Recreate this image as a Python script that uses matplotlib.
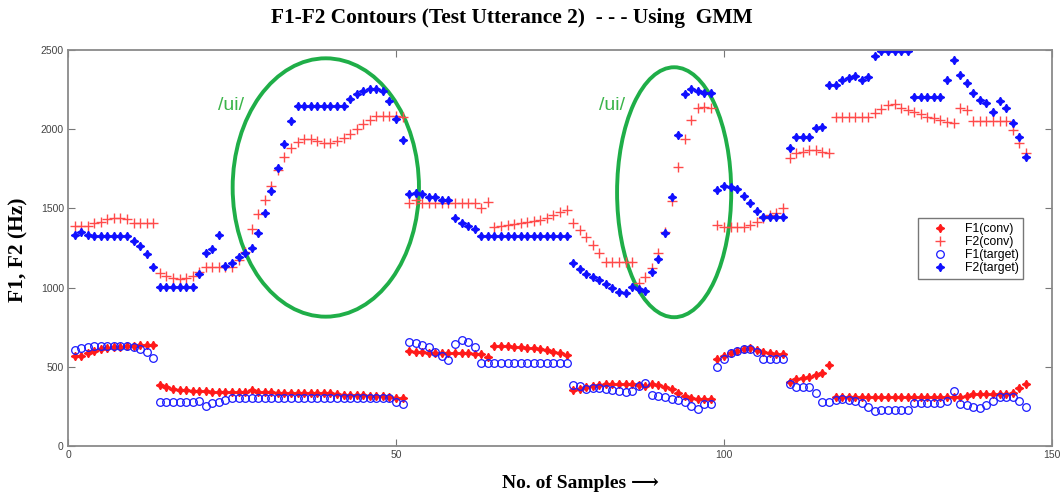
import numpy as np
import matplotlib
matplotlib.use("Agg")
import matplotlib.pyplot as plt
from matplotlib.patches import Ellipse

# formant tracks, one value per sample (1..146), in Hz
samples = np.arange(1, 147)

f1_conv = (
    [570, 570, 590, 600, 612, 620, 627, 627, 630, 632, 635, 635, 635]
    + [383, 370, 362, 356, 352, 348, 345, 345, 343, 343, 342, 342, 342, 340, 355, 338, 338, 338, 337, 337,
       337, 337, 337, 336, 336, 335, 333, 330, 325, 323, 322, 320, 318, 316, 314, 310, 305, 302]
    + [602, 596, 593, 590, 590, 588, 588, 587, 587, 585, 583, 581, 564]
    + [633, 633, 631, 627, 625, 621, 617, 613, 606, 596, 585, 575]
    + [353, 363, 370, 378, 383, 389, 391, 391, 391, 391, 385, 379, 389, 385, 374, 358, 337, 316, 301, 294, 294, 294]
    + [547, 568, 589, 602, 610, 617, 606, 595, 589, 581, 581]
    + [406, 425, 432, 437, 447, 458, 511, 311, 311, 311, 311, 310, 310, 310, 310, 309, 309, 309, 309, 309,
       309, 309, 309, 310, 310, 310, 311, 315, 328, 328, 328, 328, 328, 328, 337, 364, 391]
)

f2_conv = (
    [1390, 1390, 1390, 1405, 1415, 1430, 1440, 1440, 1435, 1405, 1405, 1405, 1405]
    + [1090, 1073, 1063, 1057, 1063, 1073, 1100, 1132, 1132, 1132, 1132, 1132, 1172, 1225, 1368, 1465, 1553,
       1643, 1742, 1823, 1884, 1921, 1936, 1936, 1923, 1915, 1915, 1925, 1942, 1968, 2000, 2030, 2061, 2082,
       2085, 2085, 2085, 2075]
    + [1532, 1550, 1532, 1532, 1532, 1532, 1532, 1532, 1532, 1532, 1532, 1500, 1540]
    + [1385, 1391, 1395, 1399, 1406, 1412, 1420, 1427, 1442, 1459, 1476, 1490]
    + [1406, 1364, 1317, 1269, 1221, 1164, 1164, 1164, 1164, 1164, 1027, 1065, 1122, 1216, 1353, 1549, 1759,
       1936, 2058, 2132, 2138, 2132]
    + [1395, 1385, 1380, 1380, 1385, 1395, 1416, 1437, 1459, 1473, 1500]
    + [1816, 1847, 1858, 1868, 1868, 1858, 1847, 2075, 2075, 2075, 2075, 2075, 2075, 2104, 2125, 2153, 2158,
       2132, 2121, 2111, 2097, 2079, 2069, 2058, 2047, 2040, 2132, 2121, 2054, 2054, 2054, 2054, 2054, 2054,
       1995, 1915, 1852]
)

f1_target = (
    [605, 617, 627, 633, 633, 633, 633, 633, 633, 627, 610, 595, 555]
    + [278, 278, 278, 278, 278, 278, 285, 255, 272, 280, 292, 300, 303, 304, 305, 305, 305, 306, 306, 306,
       306, 306, 306, 305, 305, 305, 305, 305, 304, 304, 303, 303, 302, 302, 301, 301, 280, 265]
    + [659, 652, 638, 627, 596, 570, 543, 644, 669, 659, 627, 526, 526]
    + [526] * 12
    + [385, 376, 358, 369, 364, 358, 354, 348, 343, 348, 376, 400, 322, 316, 307, 295, 290, 280, 252, 231, 265, 265]
    + [501, 547, 585, 602, 610, 610, 596, 547, 547, 547, 547]
    + [391, 374, 374, 374, 337, 280, 280, 290, 294, 290, 287, 270, 248, 223, 229, 229, 229, 229, 229, 270,
       270, 270, 270, 270, 287, 349, 265, 259, 244, 238, 259, 287, 311, 307, 307, 287, 244]
)

f2_target = (
    [1330, 1350, 1335, 1325, 1325, 1325, 1325, 1325, 1325, 1295, 1265, 1210, 1130]
    + [1006, 1006, 1006, 1006, 1006, 1006, 1085, 1216, 1242, 1332, 1136, 1153, 1191, 1220, 1248, 1347, 1473,
       1612, 1757, 1907, 2054, 2146, 2146, 2146, 2146, 2146, 2146, 2146, 2146, 2189, 2222, 2243, 2252, 2252,
       2240, 2180, 2062, 1932]
    + [1591, 1596, 1591, 1570, 1570, 1553, 1553, 1437, 1410, 1389, 1368, 1326, 1326]
    + [1326] * 12
    + [1153, 1115, 1086, 1065, 1048, 1023, 995, 974, 967, 1001, 990, 980, 1100, 1178, 1343, 1574, 1963,
       2222, 2252, 2244, 2231, 2231]
    + [1616, 1641, 1633, 1620, 1578, 1532, 1486, 1448, 1448, 1448, 1448]
    + [1879, 1949, 1949, 1949, 2005, 2011, 2279, 2279, 2310, 2321, 2336, 2310, 2327, 2462, 2495, 2495, 2495,
       2495, 2495, 2201, 2201, 2201, 2201, 2201, 2313, 2437, 2342, 2294, 2231, 2184, 2167, 2111, 2178, 2132,
       2037, 1953, 1826]
)

x_ticks = [0, 50, 100, 150]
y_ticks = [0, 500, 1000, 1500, 2000, 2500]

# highlighted /ui/ regions: (centre x, centre y, width, height) and label anchor
ui_regions = [(39.3, 1632, 28.4, 1631), (92.4, 1602, 17.4, 1578)]
ui_labels = [(22.8, 2150), (81.0, 2150)]

STAR4 = (4, 1, 0)
GREEN = "#1fae48"

fig = plt.figure(figsize=(10.64, 5.0), dpi=100)
fig.patch.set_facecolor("white")
ax = fig.add_axes([68 / 1064, 54 / 500, 984 / 1064, 396 / 500])

ax.plot(samples, f1_conv, linestyle="none", marker=STAR4, ms=6, color="#ff1a1a", label="F1(conv)")
ax.plot(samples, f2_conv, linestyle="none", marker="+", ms=6.5, mew=1.0, color="#ff4a4a", label="F2(conv)")
ax.plot(samples, f1_target, linestyle="none", marker="o", ms=5.5, mfc="none", mew=0.9, color="#1a1aff",
        label="F1(target)")
ax.plot(samples, f2_target, linestyle="none", marker=STAR4, ms=6, color="#1010ff", label="F2(target)")

for cx, cy, w, h in ui_regions:
    ax.add_patch(Ellipse((cx, cy), w, h, fill=False, edgecolor=GREEN, linewidth=2.8))
for lx, ly in ui_labels:
    ax.text(lx, ly, "/ui/", color="#3bb44a", fontsize=14, family="Liberation Sans",
            ha="left", va="center")

ax.set_xlim(0, 150)
ax.set_ylim(0, 2500)
ax.set_xticks(x_ticks)
ax.set_yticks(y_ticks)
ax.tick_params(direction="in", top=True, right=True, length=5, width=0.8, color="#777777",
               labelsize=7.5, labelcolor="#444444", pad=3)
for lab in ax.get_xticklabels() + ax.get_yticklabels():
    lab.set_family(["Liberation Sans Narrow", "Liberation Sans"])
for sp in ax.spines.values():
    sp.set_color("#8a8a8a")
    sp.set_linewidth(1.3)

leg = ax.legend(loc="upper left", bbox_to_anchor=(0.864, 0.576), frameon=True,
                fancybox=False, edgecolor="#555555", borderpad=0.4, labelspacing=0.1,
                handlelength=2.7, handletextpad=0.7, borderaxespad=0,
                prop={"family": "Liberation Sans", "size": 8.8})
leg.get_frame().set_linewidth(1.0)

serif = ["Liberation Serif", "DejaVu Serif", "DejaVu Sans"]
fig.text(0.481, 0.964, "F1-F2 Contours (Test Utterance 2)  - - - Using  GMM", ha="center", va="center",
         fontsize=15.4, fontweight="bold", family=serif)
fig.text(0.017, 0.5, "F1, F2 (Hz)", rotation=90, ha="center", va="center",
         fontsize=15.5, fontweight="bold", family=serif)
fig.text(0.546, 0.034, "No. of Samples \u27f6", ha="center", va="center",
         fontsize=14, fontweight="bold", family=serif)

fig.savefig("out.png", dpi=100, facecolor="white")
